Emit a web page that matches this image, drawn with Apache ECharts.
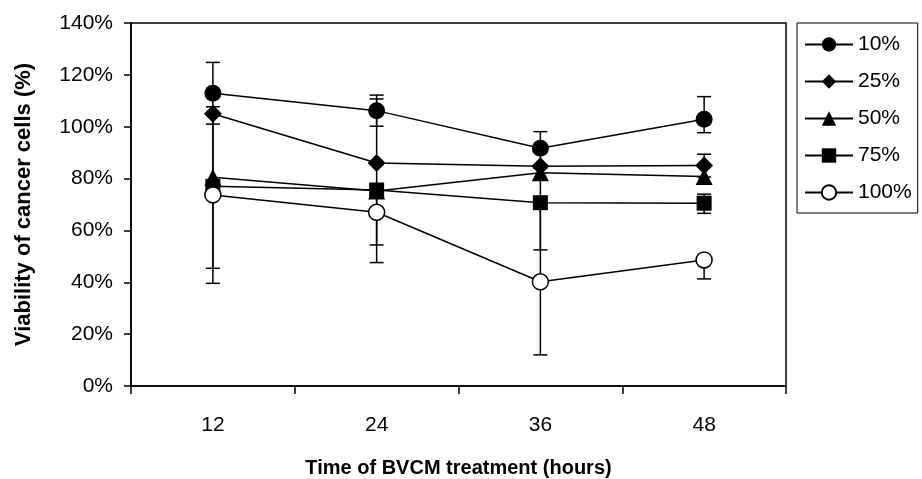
<!DOCTYPE html>
<html>
<head>
<meta charset="utf-8">
<script src="https://cdn.jsdelivr.net/npm/echarts@6/dist/echarts.min.js"></script>
<style>
  html, body { margin: 0; padding: 0; background: #fff; }
  #chart { width: 922px; height: 479px; }
</style>
</head>
<body>
<div id="chart"></div>
<script>
  // hours of treatment
  var hours = ['12', '24', '36', '48'];
  var seriesNames = ['10%', '25%', '50%', '75%', '100%'];

  // viability (%)
  var v10 = [112.9, 106.2, 91.7, 102.9];
  var v25 = [105.0, 86.0, 84.8, 85.0];
  var v50 = [80.5, 75.2, 82.2, 80.8];
  var v75 = [77.0, 75.6, 70.7, 70.5];
  var v100 = [73.7, 67.0, 40.2, 48.6];

  // error bars, upper / lower length (0 = not drawn / hidden)
  var e10Up = [11.9, 6.0, 6.4, 8.7];
  var e10Dn = [11.9, 6.0, 6.4, 5.2];
  var e25Up = [0, 0, 0, 4.4];
  var e25Dn = [0, 0, 0, 4.4];
  var e50Up = [0, 0, 0, 0];
  var e50Dn = [0, 0, 0, 0];
  var e75Up = [28, 35.1, 13.3, 3.5];
  var e75Dn = [31.6, 28, 18.2, 3.9];
  var e100Up = [34, 11, 28.2, 0];
  var e100Dn = [34.1, 12.6, 28.2, 7.3];

  var yTicks = { min: 0, max: 140, step: 20 };

  var values = [v10, v25, v50, v75, v100];
  var errUp = [e10Up, e25Up, e50Up, e75Up, e100Up];
  var errDn = [e10Dn, e25Dn, e50Dn, e75Dn, e100Dn];
  var symbols = ['circle', 'diamond', 'triangle', 'rect', 'circle'];
  var symbolSizes = [17, 18, 17, 15, 16];
  var fills = ['#000', '#000', '#000', '#000', '#fff'];

  var font = 'Liberation Sans, Arial, sans-serif';

  // one row per bar: [xIndex, low, high, value]
  var errData = [];
  values.forEach(function (vals, s) {
    vals.forEach(function (v, i) {
      if (errUp[s][i] || errDn[s][i]) {
        errData.push([i, v - errDn[s][i], v + errUp[s][i], v]);
      }
    });
  });

  function renderErr(params, api) {
    var x = api.value(0), lo = api.value(1), hi = api.value(2), v = api.value(3);
    var pLo = api.coord([x, lo]);
    var pHi = api.coord([x, hi]);
    var pV = api.coord([x, v]);
    var cap = 7;
    var style = { stroke: '#000', lineWidth: 1.5 };
    var kids = [{
      type: 'line',
      shape: { x1: pV[0], y1: pLo[1], x2: pV[0], y2: pHi[1] },
      style: style
    }];
    if (lo < v) {
      kids.push({ type: 'line', shape: { x1: pV[0] - cap, y1: pLo[1], x2: pV[0] + cap, y2: pLo[1] }, style: style });
    }
    if (hi > v) {
      kids.push({ type: 'line', shape: { x1: pV[0] - cap, y1: pHi[1], x2: pV[0] + cap, y2: pHi[1] }, style: style });
    }
    return { type: 'group', children: kids };
  }

  var series = [{
    type: 'custom',
    name: 'err',
    renderItem: renderErr,
    data: errData,
    encode: { x: 0, y: [1, 2] },
    z: 1,
    silent: true
  }];

  seriesNames.forEach(function (name, s) {
    series.push({
      name: name,
      type: 'line',
      data: values[s],
      symbol: symbols[s],
      symbolSize: symbolSizes[s],
      showAllSymbol: true,
      lineStyle: { color: '#000', width: 1.5 },
      itemStyle: { color: fills[s], borderColor: '#000', borderWidth: s === 4 ? 1.5 : 0 },
      z: 2
    });
  });

  var myChart = echarts.init(document.getElementById('chart'));
  var option = {
    animation: false,
    backgroundColor: '#fff',
    grid: {
      left: 131, right: 136, top: 23, bottom: 93,
      outerBoundsMode: 'none',
      show: true, borderColor: '#000', borderWidth: 1.5, backgroundColor: 'transparent'
    },
    legend: {
      orient: 'vertical',
      left: 797, top: 23,
      data: seriesNames,
      itemWidth: 48,
      itemHeight: 18,
      itemGap: 16,
      padding: [11, 6, 10, 7],
      borderColor: '#000',
      borderWidth: 1,
      textStyle: { fontFamily: font, fontSize: 21, color: '#000' }
    },
    xAxis: {
      type: 'category',
      data: hours,
      boundaryGap: true,
      name: 'Time of BVCM treatment (hours)',
      nameLocation: 'middle',
      nameGap: 72,
      nameTextStyle: { fontFamily: font, fontSize: 20, fontWeight: 'bold', color: '#000' },
      axisLine: { lineStyle: { color: '#000', width: 1.5 } },
      axisTick: { show: true, interval: 0, length: 8, lineStyle: { color: '#000', width: 1.5 } },
      axisLabel: { fontFamily: font, fontSize: 21, color: '#000', margin: 29 },
      splitLine: { show: false }
    },
    yAxis: {
      type: 'value',
      min: yTicks.min,
      max: yTicks.max,
      interval: yTicks.step,
      name: 'Viability of cancer cells (%)',
      nameLocation: 'middle',
      nameGap: 96,
      nameTextStyle: { fontFamily: font, fontSize: 22, fontWeight: 'bold', color: '#000' },
      axisLine: { show: true, lineStyle: { color: '#000', width: 1.5 } },
      axisTick: { show: true, length: 7, lineStyle: { color: '#000', width: 1.5 } },
      axisLabel: { fontFamily: font, fontSize: 21, color: '#000', margin: 18, formatter: '{value}%' },
      splitLine: { show: false }
    },
    series: series
  };
  myChart.setOption(option);
</script>
</body>
</html>
